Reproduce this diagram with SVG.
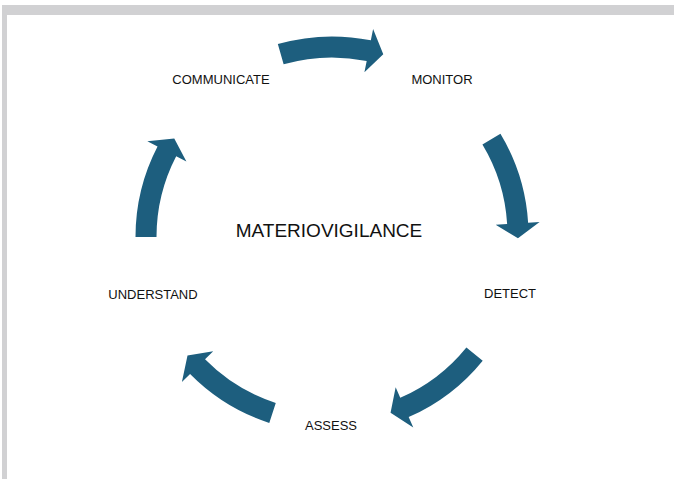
<svg xmlns="http://www.w3.org/2000/svg" xmlns:xlink="http://www.w3.org/1999/xlink" width="674" height="479" viewBox="0 0 674 479">
  <style>
    .lbl { font-family: "Liberation Sans", Arial, sans-serif; font-size: 13px; fill: #111111; text-anchor: middle; }
    .title { font-family: "Liberation Sans", Arial, sans-serif; font-size: 19px; fill: #111111; text-anchor: middle; }
    .arrow { fill: #1d5e7e; }
    .frame { fill: #d1d1d3; }
  </style>
  <defs>
    <path id="arr" d="M196.5,0 A196.5,196.5 0 0 1 174.46,90.43 L184.67,95.72 L157.74,98.57 L145.60,75.47 L155.81,80.77 A175.5,175.5 0 0 0 175.5,0 Z"/>
  </defs>
  <rect width="674" height="479" fill="#ffffff"/>
  <g id="frame">
    <rect class="frame" x="2" y="5" width="672" height="10"/>
    <rect class="frame" x="2" y="5" width="5" height="474"/>
  </g>
  <g id="connectors">
    <use xlink:href="#arr" class="arrow" transform="translate(332,233) rotate(-106)"/>
    <use xlink:href="#arr" class="arrow" transform="translate(332,235) rotate(-31)"/>
    <use xlink:href="#arr" class="arrow" transform="translate(330,237) rotate(39)"/>
    <use xlink:href="#arr" class="arrow" transform="translate(330,236) rotate(108)"/>
    <use xlink:href="#arr" class="arrow" transform="translate(332,237) rotate(180)"/>
  </g>
  <g id="center">
    <text class="title" x="329" y="237">MATERIOVIGILANCE</text>
  </g>
  <g id="monitor">
    <text class="lbl" x="442" y="84">MONITOR</text>
  </g>
  <g id="detect">
    <text class="lbl" x="510" y="298">DETECT</text>
  </g>
  <g id="assess">
    <text class="lbl" x="331" y="430">ASSESS</text>
  </g>
  <g id="understand">
    <text class="lbl" x="153" y="299">UNDERSTAND</text>
  </g>
  <g id="communicate">
    <text class="lbl" x="221" y="84">COMMUNICATE</text>
  </g>
</svg>
